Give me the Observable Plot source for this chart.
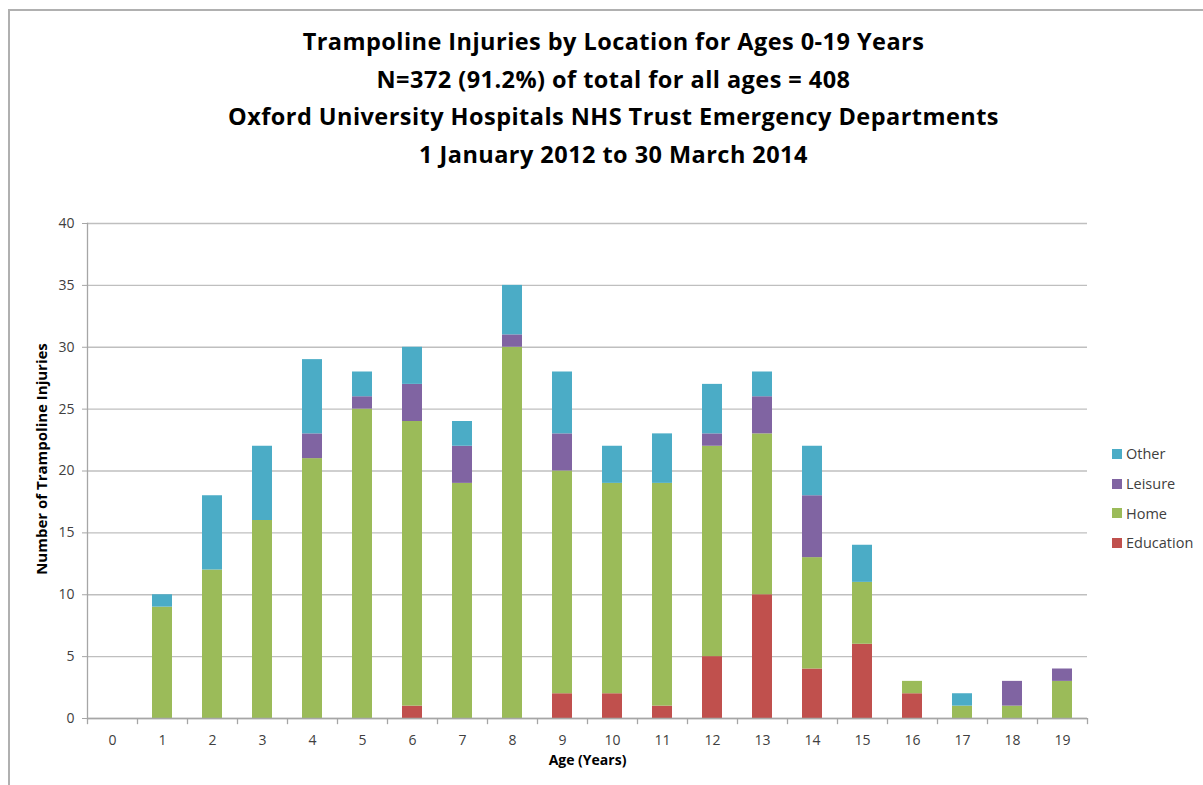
<!DOCTYPE html>
<html>
<head>
<meta charset="utf-8">
<script src="https://cdn.jsdelivr.net/npm/d3@7"></script>
<script src="https://cdn.jsdelivr.net/npm/@observablehq/plot@0.6"></script>
<style>
  html, body { margin: 0; padding: 0; background: #fff; }
  #wrap { position: relative; width: 1203px; height: 785px; overflow: hidden; font-family: "Open Sans", sans-serif; }
  #border { position: absolute; left: 8px; top: 9px; width: 1300px; height: 900px; border-left: 2px solid #b0b0b0; border-top: 2px solid #b0b0b0; }
  #title { position: absolute; left: 12px; width: 1203px; top: 23px; text-align: center; font-weight: 700; font-size: 23.5px; line-height: 37.5px; color: #000; letter-spacing: 0.45px; }
  #plot { position: absolute; left: 0; top: 0; }
  #legend { position: absolute; left: 1112px; top: 439px; font-size: 14.5px; color: #404040; }
  .item { height: 29.7px; display: flex; align-items: center; }
  .sw { width: 10px; height: 10px; margin-right: 4px; }
</style>
</head>
<body>
<div id="wrap">
  <div id="border"></div>
  <div id="plot"></div>
  <div id="title">Trampoline Injuries by Location for Ages 0-19 Years<br>N=372 (91.2%) of total for all ages = 408<br>Oxford University Hospitals NHS Trust Emergency Departments<br>1 January 2012 to 30 March 2014</div>
  <div id="legend"></div>
</div>
<script>
const ages = [0,1,2,3,4,5,6,7,8,9,10,11,12,13,14,15,16,17,18,19];
const education = [0,0,0,0,0,0,1,0,0,2,2,1,5,10,4,6,2,0,0,0];
const home      = [0,9,12,16,21,25,23,19,30,18,17,18,17,13,9,5,1,1,1,3];
const leisure   = [0,0,0,0,2,1,3,3,1,3,0,0,1,3,5,0,0,0,2,1];
const other     = [0,1,6,6,6,2,3,2,4,5,3,4,4,2,4,3,0,1,0,0];
const locations = ["Education","Home","Leisure","Other"];
const colors = ["#C0504D","#9BBB59","#8064A2","#4BACC6"];
const yTicks = [0,5,10,15,20,25,30,35,40];

const series = {Education: education, Home: home, Leisure: leisure, Other: other};
const data = [];
for (const loc of locations) {
  ages.forEach((a, i) => data.push({age: a, location: loc, count: series[loc][i]}));
}

const chart = Plot.plot({
  width: 1203,
  height: 785,
  marginTop: 223,
  marginBottom: 67,
  marginLeft: 87,
  marginRight: 116,
  style: {fontFamily: "Open Sans, sans-serif", fontSize: "14px", color: "#404040", background: "transparent"},
  x: {type: "band", domain: ages, paddingInner: 0.6, paddingOuter: 0.3, label: null},
  y: {domain: [0, 40], label: null},
  color: {domain: locations, range: colors},
  marks: [
    Plot.gridY(yTicks, {stroke: "#bfbfbf", strokeOpacity: 1, strokeWidth: 1.3}),
    Plot.barY(data, {x: "age", y: "count", fill: "location", order: locations}),
    Plot.ruleY([0], {stroke: "#a6a6a6", strokeWidth: 1.3}),
    Plot.frame({anchor: "left", stroke: "#a6a6a6", strokeWidth: 1.3}),
    Plot.ruleX(ages, {x: d => d, dx: -25, y1: 0, y2: -0.5, stroke: "#a6a6a6", strokeWidth: 1.3}),
    Plot.ruleX([ages[ages.length - 1]], {x: d => d, dx: 25, y1: 0, y2: -0.5, stroke: "#a6a6a6", strokeWidth: 1.3}),
    Plot.axisY(yTicks, {tickSize: 5, tickPadding: 8, stroke: "#a6a6a6", fill: "#404040", fontSize: 14}),
    Plot.axisX(ages, {tickSize: 0, tickPadding: 17, fill: "#404040", fontSize: 14}),
    Plot.text(["Age (Years)"], {frameAnchor: "bottom", dy: 46, fontWeight: "bold", fontSize: 14, fill: "#000"}),
    Plot.text(["Number of Trampoline Injuries"], {frameAnchor: "left", textAnchor: "middle", dx: -45, dy: -12, rotate: -90, fontWeight: "bold", fontSize: 15, fill: "#000"})
  ]
});
document.getElementById("plot").appendChild(chart);

const legend = document.getElementById("legend");
for (let i = locations.length - 1; i >= 0; i--) {
  const it = document.createElement("div");
  it.className = "item";
  it.innerHTML = `<span class="sw" style="background:${colors[i]}"></span><span>${locations[i]}</span>`;
  legend.appendChild(it);
}
</script>
</body>
</html>
